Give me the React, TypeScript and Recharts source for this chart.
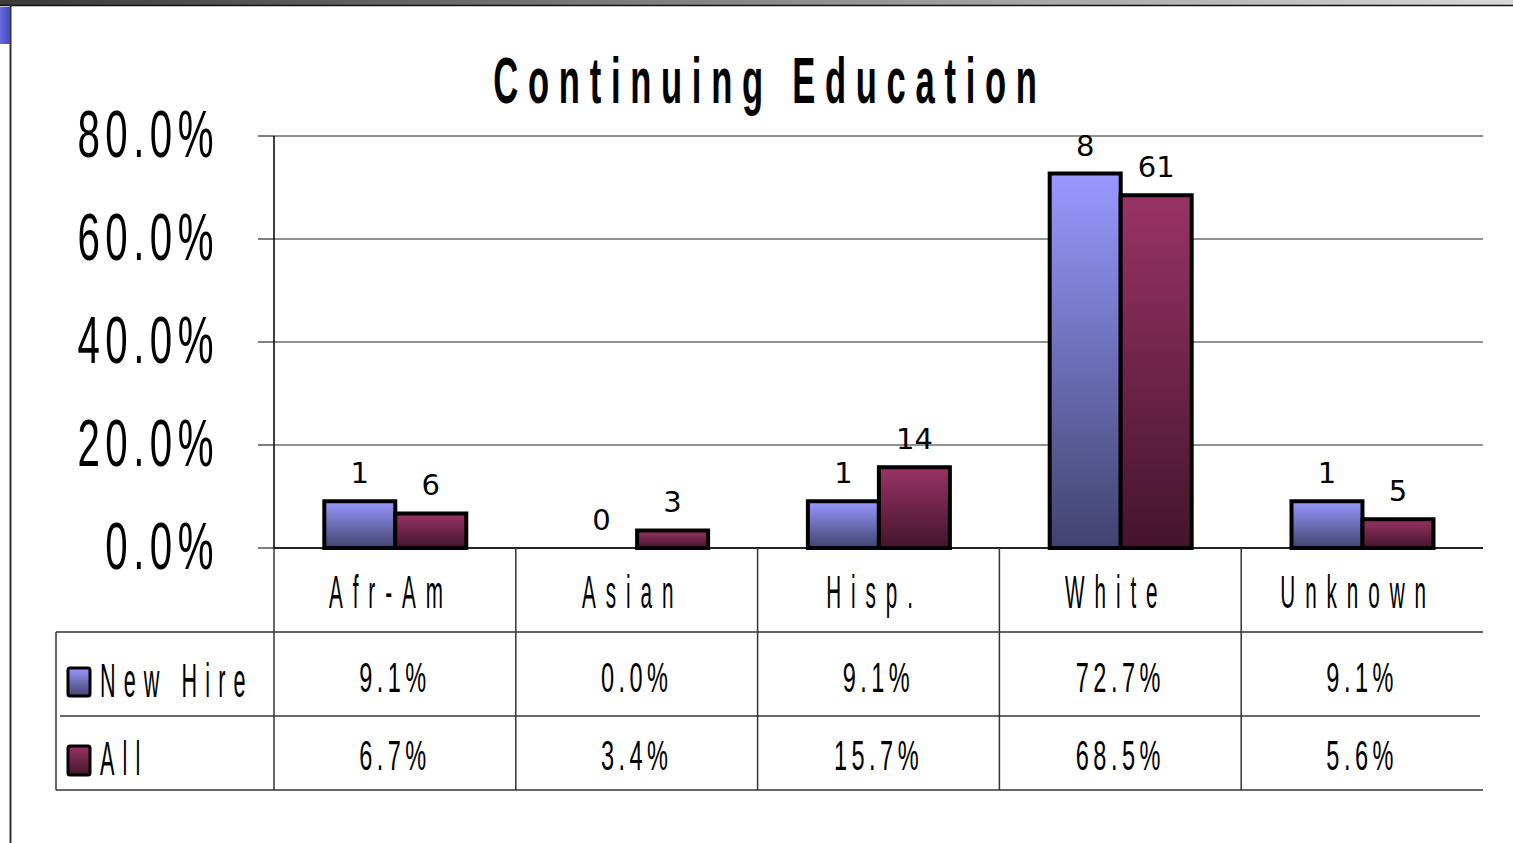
import React from "react";
import { Bar, BarChart, CartesianGrid, Rectangle, XAxis, YAxis } from "recharts";

const categories = ["Afr-Am", "Asian", "Hisp.", "White", "Unknown"];
const newHirePct = [0.091, 0.0, 0.091, 0.727, 0.091];
const allPct = [0.067, 0.034, 0.157, 0.685, 0.056];
const newHireCount = [1, 0, 1, 8, 1];
const allCount = [6, 3, 14, 61, 5];
const yTicks = [0, 0.2, 0.4, 0.6, 0.8];

const data = categories.map((cat, i) => ({
  cat,
  newHire: newHirePct[i],
  all: allPct[i],
  nhCount: newHireCount[i],
  allCount: allCount[i],
}));

const W = 1513;
const H = 843;
const FONT = "'Liberation Sans', Arial, sans-serif";
const pct = (v: number) => (v * 100).toFixed(1) + "%";

// tall, squeezed text like the original slide
function NarrowText({ x, y, size, sx, ls = 0, anchor = "middle", weight = 400, children }: any) {
  return (
    <text
      transform={`translate(${x} ${y}) scale(${sx} 1)`}
      fontSize={size}
      fontFamily={FONT}
      fontWeight={weight}
      letterSpacing={ls}
      textAnchor={anchor}
      fill="#000"
    >
      {children}
    </text>
  );
}

function YTick({ x, y, payload }: any) {
  return (
    <NarrowText x={x - 39} y={y + 21} size={66} sx={0.61} ls={9} anchor="end">
      {pct(payload.value)}
    </NarrowText>
  );
}

function TableTick({ x, y, payload }: any) {
  const i = payload.index;
  const half = payload.offset || 120.9;
  return (
    <g>
      <NarrowText x={x - 4} y={y + 60} size={46} sx={0.45} ls={22}>
        {categories[i]}
      </NarrowText>
      <NarrowText x={x} y={y + 144} size={42} sx={0.56} ls={8}>
        {pct(newHirePct[i])}
      </NarrowText>
      <NarrowText x={x} y={y + 222} size={42} sx={0.56} ls={8}>
        {pct(allPct[i])}
      </NarrowText>
      <line x1={x - half} x2={x - half} y1={y} y2={y + 242} stroke="#333" strokeWidth={1.5} />
    </g>
  );
}

// bar + count label (drawn here so the zero bar still gets its "0")
const barWithCount = (countKey: string) => (props: any) => {
  const { x, y, width, payload } = props;
  return (
    <g>
      <Rectangle {...props} />
      <text
        x={x + width / 2}
        y={y - 18}
        textAnchor="middle"
        fontFamily="'DejaVu Sans', Verdana, sans-serif"
        fontSize={29}
        fill="#000"
      >
        {payload[countKey]}
      </text>
    </g>
  );
};

export default function App() {
  return (
    <div style={{ position: "absolute", left: 0, top: 0, width: W, height: H, background: "#fff" }}>
      <BarChart
        width={W}
        height={H}
        data={data}
        margin={{ top: 136, right: 30, bottom: 0, left: 0 }}
        barCategoryGap="20.8%"
        barGap={0}
      >
        <defs>
          <linearGradient id="gNew" x1="0" y1="0" x2="0" y2="1">
            <stop offset="0%" stopColor="#9999ff" />
            <stop offset="100%" stopColor="#40436e" />
          </linearGradient>
          <linearGradient id="gAll" x1="0" y1="0" x2="0" y2="1">
            <stop offset="0%" stopColor="#993366" />
            <stop offset="100%" stopColor="#43152a" />
          </linearGradient>
        </defs>
        <CartesianGrid vertical={false} stroke="#222" strokeWidth={1} />
        <YAxis
          width={274}
          domain={[0, 0.8]}
          ticks={yTicks}
          tickSize={16}
          tickMargin={0}
          tickLine={{ stroke: "#000" }}
          axisLine={{ stroke: "#000", strokeWidth: 1.5 }}
          tick={<YTick />}
        />
        <XAxis
          dataKey="cat"
          height={295}
          tickSize={0}
          tickMargin={0}
          tickLine={false}
          axisLine={{ stroke: "#000", strokeWidth: 1.5 }}
          interval={0}
          tick={<TableTick />}
        />
        <Bar
          dataKey="newHire"
          fill="url(#gNew)"
          stroke="#000"
          strokeWidth={4}
          isAnimationActive={false}
          shape={barWithCount("nhCount")}
        />
        <Bar
          dataKey="all"
          fill="url(#gAll)"
          stroke="#000"
          strokeWidth={4}
          isAnimationActive={false}
          shape={barWithCount("allCount")}
        />
      </BarChart>

      <svg width={W} height={H} style={{ position: "absolute", left: 0, top: 0, pointerEvents: "none" }}>
        <defs>
          <linearGradient id="topBar" x1="0" y1="0" x2="1" y2="0">
            <stop offset="0%" stopColor="#3a3a3a" />
            <stop offset="100%" stopColor="#d8d8d8" />
          </linearGradient>
          <linearGradient id="blueTab" x1="0" y1="0" x2="1" y2="0">
            <stop offset="0%" stopColor="#6a6ae0" />
            <stop offset="100%" stopColor="#4848c8" />
          </linearGradient>
          <linearGradient id="kNew" x1="0" y1="0" x2="0" y2="1">
            <stop offset="0%" stopColor="#9999ff" />
            <stop offset="100%" stopColor="#40436e" />
          </linearGradient>
          <linearGradient id="kAll" x1="0" y1="0" x2="0" y2="1">
            <stop offset="0%" stopColor="#993366" />
            <stop offset="100%" stopColor="#43152a" />
          </linearGradient>
        </defs>
        {/* slide frame */}
        <rect x={0} y={0} width={W} height={5} fill="url(#topBar)" />
        <line x1={0} x2={W} y1={5.5} y2={5.5} stroke="#111" strokeWidth={1.5} />
        <line x1={10.5} x2={10.5} y1={5} y2={H} stroke="#333" strokeWidth={2} />
        <rect x={0} y={7} width={10} height={37} fill="url(#blueTab)" />

        <NarrowText x={770} y={103} size={64} sx={0.54} ls={18} weight={700}>
          Continuing Education
        </NarrowText>

        {/* data table rows */}
        <line x1={56} x2={1483} y1={632} y2={632} stroke="#333" strokeWidth={1.5} />
        <line x1={60} x2={1480} y1={716} y2={716} stroke="#333" strokeWidth={1.5} />
        <line x1={56} x2={1483} y1={790} y2={790} stroke="#333" strokeWidth={1.5} />
        <line x1={56} x2={56} y1={632} y2={790} stroke="#333" strokeWidth={1.5} />

        {/* legend keys */}
        <rect x={68} y={668} width={22} height={28} rx={2} fill="url(#kNew)" stroke="#000" strokeWidth={3} />
        <rect x={68} y={746} width={22} height={29} rx={2} fill="url(#kAll)" stroke="#000" strokeWidth={3} />
        <NarrowText x={100} y={697} size={48} sx={0.45} ls={18} anchor="start">
          New Hire
        </NarrowText>
        <NarrowText x={100} y={775} size={48} sx={0.45} ls={18} anchor="start">
          All
        </NarrowText>
      </svg>
    </div>
  );
}
